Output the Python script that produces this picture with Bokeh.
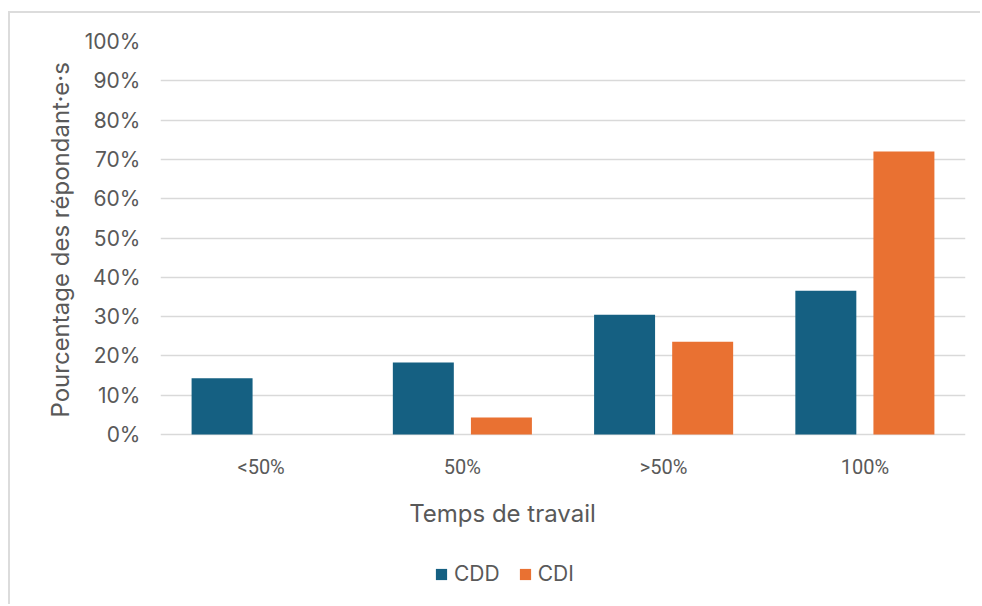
from bokeh.plotting import figure
from bokeh.models import (FactorRange, Range1d, FixedTicker, PrintfTickFormatter,
                          Legend, LegendItem, Label, Title, ColumnDataSource)
from bokeh.transform import dodge
from bokeh.embed import file_html
from bokeh.resources import INLINE

# Data
categories = ["<50%", "50%", ">50%", "100%"]
cdd = [14.3, 18.3, 30.5, 36.6]
cdi = [0.0, 4.3, 23.6, 72.0]
series = ["CDD", "CDI"]
y_ticks = [0, 10, 20, 30, 40, 50, 60, 70, 80, 90, 100]
x_title = "Temps de travail"
y_title = "Pourcentage des répondant·e·s"

FONT = "Inter"
CAT_FONT = "Roboto"
TEXT = "#595959"
GRID = "#d9d9d9"
COLORS = ["#156082", "#E97132"]

# The frame runs down to the bottom of the canvas so the category labels,
# the x title and the legend can sit inside it under the 0% line.
W, H = 972, 593
TOP, LEFT, RIGHT = 28, 150, 17
PLOT_PX = 393           # height of the 0-100% band in pixels
frame_h = H - TOP
y_min = -100.0 * (frame_h - PLOT_PX) / PLOT_PX

src = ColumnDataSource(dict(cat=categories, CDD=cdd, CDI=cdi))

p = figure(x_range=FactorRange(*categories, range_padding=0),
           y_range=Range1d(y_min, 100),
           width=W, height=H,
           min_border_left=LEFT, min_border_right=RIGHT,
           min_border_top=TOP, min_border_bottom=0,
           output_backend="svg", toolbar_location=None)
p.margin = (11, 0, 0, 8)
p.styles = {"border-left": "2px solid #dcdcdc", "border-top": "2px solid #dcdcdc"}
p.outline_line_color = None

bar_w = 0.303
off = 0.194
r1 = p.vbar(x=dodge("cat", -off, range=p.x_range), top="CDD", width=bar_w,
            source=src, fill_color=COLORS[0], line_color=None)
r2 = p.vbar(x=dodge("cat", off, range=p.x_range), top="CDI", width=bar_w,
            source=src, fill_color=COLORS[1], line_color=None)

# grid
p.xgrid.grid_line_color = None
p.ygrid.grid_line_color = GRID
p.ygrid.grid_line_width = 1.3
p.yaxis.ticker = FixedTicker(ticks=y_ticks)
p.yaxis.formatter = PrintfTickFormatter(format="%d%%")

# y axis
ya = p.yaxis[0]
ya.axis_line_color = None
ya.major_tick_line_color = None
ya.major_tick_out = 0
ya.major_tick_in = 0
ya.minor_tick_line_color = None
ya.major_label_standoff = 20
ya.major_label_text_font = FONT
ya.major_label_text_font_size = "21px"
ya.major_label_text_color = TEXT

# y title, placed alongside the 0-100% band
p.add_layout(Title(text=y_title, align="left", offset=189, standoff=14,
                   text_font=FONT, text_font_size="24px",
                   text_font_style="normal", text_color=TEXT), "left")

# x axis drawn on the 0% line
xa = p.xaxis[0]
xa.fixed_location = 0
xa.axis_line_color = None
xa.major_tick_line_color = None
xa.major_tick_out = 0
xa.major_tick_in = 0
xa.minor_tick_line_color = None
xa.major_label_standoff = 20
xa.major_label_text_font = CAT_FONT
xa.major_label_text_font_size = "20px"
xa.major_label_text_color = TEXT

# x axis title, centred on the whole chart
p.add_layout(Label(x=342, y=93, x_units="screen", y_units="screen",
                   text=x_title, text_align="center", text_baseline="middle",
                   text_font=FONT, text_font_size="24px", text_color=TEXT))

legend = Legend(items=[LegendItem(label=series[0], renderers=[r1]),
                       LegendItem(label=series[1], renderers=[r2])],
                orientation="horizontal", location=(274, 20),
                glyph_width=14, glyph_height=14, label_standoff=6, spacing=18,
                padding=0, margin=0, border_line_color=None,
                background_fill_alpha=0,
                label_text_font=FONT, label_text_font_size="21px",
                label_text_color=TEXT)
p.add_layout(legend)

open("out.html", "w").write(file_html(p, INLINE))
